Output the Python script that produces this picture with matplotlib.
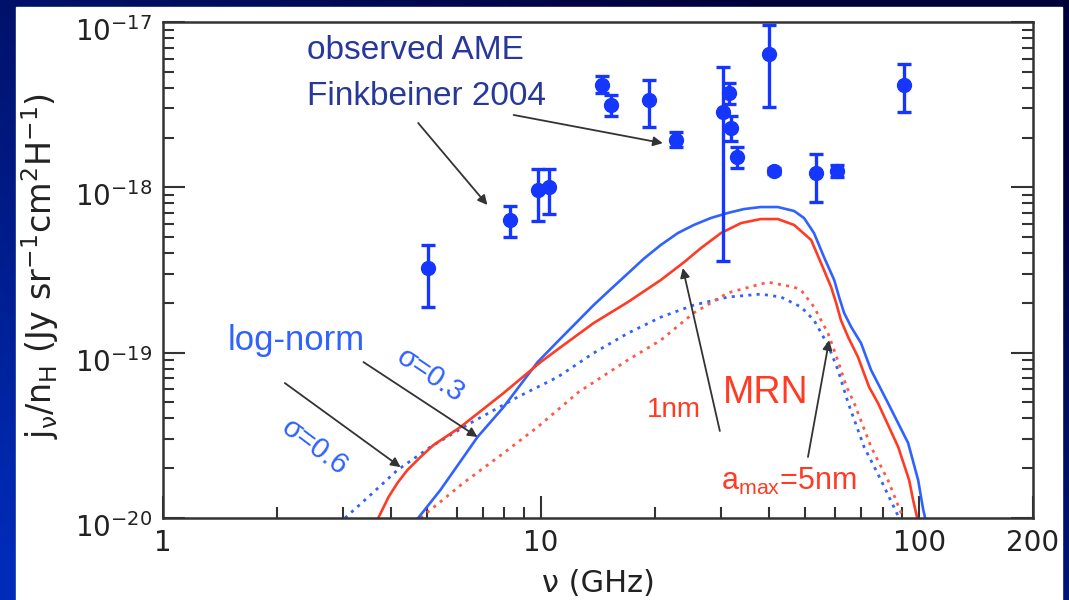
import numpy as np
import matplotlib
matplotlib.use('Agg')
import matplotlib.pyplot as plt
from matplotlib.patches import Rectangle
from matplotlib.ticker import NullFormatter
from matplotlib.transforms import ScaledTranslation

# observed AME (Finkbeiner 2004)
obs_freq = [5.03, 8.26, 9.79, 10.5, 14.5, 15.3, 19.3, 22.7, 30.3, 31.4, 31.8, 33.0, 40.1, 41.3, 53.3, 60.7, 91.2]
obs_val = [3.25e-19, 6.34e-19, 9.7e-19, 1.0e-18, 4.16e-18, 3.15e-18, 3.37e-18, 1.93e-18, 2.86e-18,
           3.72e-18, 2.29e-18, 1.52e-18, 6.4e-18, 1.25e-18, 1.22e-18, 1.25e-18, 4.16e-18]
obs_lo = [1.9e-19, 5.0e-19, 6.3e-19, 6.9e-19, 3.7e-18, 2.7e-18, 2.32e-18, 1.75e-18, 3.6e-19,
          3.2e-18, 1.9e-18, 1.3e-18, 3.06e-18, 1.2e-18, 8.1e-19, 1.15e-18, 2.86e-18]
obs_hi = [4.5e-19, 7.7e-19, 1.29e-18, 1.29e-18, 4.7e-18, 3.6e-18, 4.46e-18, 2.15e-18, 5.34e-18,
          4.3e-18, 2.7e-18, 1.75e-18, 9.6e-18, 1.3e-18, 1.59e-18, 1.36e-18, 5.57e-18]

# MRN, a_min = 1nm (solid red)
mrn1_freq = [3.71, 3.95, 4.17, 4.43, 4.80, 5.19, 6.12, 7.96, 9.97, 11.27, 13.77, 16.95, 20.73, 23.9,
             26.5, 29.9, 33.8, 38.1, 42.3, 46.7, 51.8, 56.0, 58.5, 60.3, 62.1, 64.9, 68.9, 73.7,
             77.8, 88.0, 94.1, 96.4, 98.8]
mrn1_val = [1.0e-20, 1.34e-20, 1.63e-20, 1.95e-20, 2.34e-20, 2.76e-20, 3.55e-20, 5.70e-20, 8.77e-20,
            1.08e-19, 1.51e-19, 2.02e-19, 2.75e-19, 3.53e-19, 4.30e-19, 5.29e-19, 6.08e-19, 6.43e-19,
            6.43e-19, 5.92e-19, 4.80e-19, 3.16e-19, 2.49e-19, 2.00e-19, 1.57e-19, 1.24e-19, 9.40e-20,
            6.20e-20, 4.96e-20, 2.69e-20, 1.69e-20, 1.28e-20, 1.0e-20]

# MRN, a_max = 5nm (dotted red)
mrn5_freq = [4.80, 6.23, 7.96, 9.79, 12.57, 16.95, 20.73, 25.35, 31.2, 39.8, 46.7, 48.7, 52.7,
             57.4, 61.0, 64.1, 67.3, 74.6, 82.7, 90.7]
mrn5_val = [1.0e-20, 1.63e-20, 2.47e-20, 3.55e-20, 5.78e-20, 9.02e-20, 1.19e-19, 1.74e-19, 2.30e-19,
            2.67e-19, 2.49e-19, 2.39e-19, 1.89e-19, 1.31e-19, 8.9e-20, 6.3e-20, 4.96e-20, 2.69e-20,
            1.69e-20, 1.0e-20]

# log-normal, sigma = 0.3 (solid blue)
ln3_freq = [4.73, 5.42, 6.79, 7.96, 9.79, 11.27, 12.50, 13.77, 15.28, 16.95, 18.69, 20.73, 23.0,
            25.35, 28.1, 31.2, 34.4, 38.1, 42.3, 46.7, 49.6, 52.7, 56.0, 59.6, 61.4, 63.3, 66.1,
            70.2, 74.6, 82.7, 93.5, 99.4, 102.5, 103.7]
ln3_val = [1.0e-20, 1.48e-20, 3.09e-20, 4.69e-20, 8.77e-20, 1.22e-19, 1.55e-19, 1.94e-19, 2.42e-19,
           3.01e-19, 3.70e-19, 4.48e-19, 5.29e-19, 5.92e-19, 6.52e-19, 7.00e-19, 7.39e-19, 7.60e-19,
           7.60e-19, 7.19e-19, 6.52e-19, 5.29e-19, 3.79e-19, 2.75e-19, 2.17e-19, 1.74e-19, 1.43e-19,
           1.14e-19, 7.85e-20, 4.96e-20, 2.84e-20, 1.69e-20, 1.12e-20, 1.0e-20]

# log-normal, sigma = 0.6 (dotted blue)
ln6_freq = [3.03, 3.54, 4.17, 5.10, 6.50, 8.67, 11.06, 13.77, 16.95, 20.73, 25.35, 31.2, 38.1, 43.1,
            48.7, 52.7, 57.4, 61.0, 64.9, 71.5, 79.3, 88.5]
ln6_val = [1.0e-20, 1.38e-20, 1.95e-20, 2.69e-20, 3.75e-20, 5.39e-20, 7.12e-20, 9.95e-20, 1.31e-19,
           1.64e-19, 1.94e-19, 2.17e-19, 2.26e-19, 2.17e-19, 1.89e-19, 1.57e-19, 1.11e-19, 7.85e-20,
           4.96e-20, 2.69e-20, 1.69e-20, 1.0e-20]

x_ticks = [1, 10, 100, 200]
x_ticklabels = ['1', '10', '100', '200']
y_ticks = [1e-20, 1e-19, 1e-18, 1e-17]

blue_pt = '#1436ff'
blue_ln = '#2f62ff'
red_ln = '#ff3b24'
red_dot = '#ff5a48'
navy = '#28389a'
arrow_c = '#333333'

W, H = 1069, 600
fig = plt.figure(figsize=(W / 100, H / 100), dpi=100)

# slide background (gradient) + white panel
bg = fig.add_axes([0, 0, 1, 1])
gx, gy = np.meshgrid(np.linspace(0, 1, 200), np.linspace(0, 1, 120))
t = np.clip(0.55 * (1 - gx) + 0.65 * gy - 0.15, 0, 1)[..., None]
dark = np.array([0.0, 0.0, 0.22])
bright = np.array([0.0, 0.17, 0.72])
bg.imshow(dark + t * (bright - dark), extent=[0, W, H, 0], aspect='auto')
bg.add_patch(Rectangle((16, 7), 1046, 600, color='white'))
bg.set_xlim(0, W)
bg.set_ylim(H, 0)
bg.axis('off')

ax = fig.add_axes([163 / W, 1 - 518 / H, (1033 - 163) / W, (518 - 22) / H])
ax.set_facecolor('none')
ax.set_xscale('log')
ax.set_yscale('log')
ax.set_xlim(1, 200)
ax.set_ylim(1e-20, 1e-17)

ax.plot(ln6_freq, ln6_val, color=blue_ln, lw=2.0, linestyle=(0, (1.1, 1.9)))
ax.plot(mrn5_freq, mrn5_val, color=red_dot, lw=2.0, linestyle=(0, (1.1, 1.9)))
ax.plot(ln3_freq, ln3_val, color=blue_ln, lw=1.9)
ax.plot(mrn1_freq, mrn1_val, color=red_ln, lw=1.9)

obs_val_a = np.array(obs_val)
yerr = [obs_val_a - np.array(obs_lo), np.array(obs_hi) - obs_val_a]
ax.errorbar(obs_freq, obs_val, yerr=yerr, fmt='o', color=blue_pt, ms=10,
            elinewidth=2.4, capsize=5, capthick=2.4, zorder=5)

# axes styling
for s in ax.spines.values():
    s.set_color('#333333')
    s.set_linewidth(1.8)
ax.tick_params(which='both', direction='in', top=False, right=True, color='#333333',
               width=1.5, labelsize=20, labelcolor='#222222', pad=8)
ax.tick_params(which='major', length=16)
ax.tick_params(which='minor', length=8)
ax.set_xticks(x_ticks)
ax.set_xticklabels(x_ticklabels)
ax.set_yticks(y_ticks)
ax.xaxis.set_minor_formatter(NullFormatter())
ax.yaxis.set_minor_formatter(NullFormatter())
shift = ScaledTranslation(0, -7 / 100, fig.dpi_scale_trans)
for lab in ax.get_yticklabels():
    lab.set_transform(lab.get_transform() + shift)

fig.text(598 / W, 1 - 583 / H, 'ν (GHz)', fontsize=22, color='#222222', ha='center', va='center')
fig.text(40 / W, 1 - 266 / H, r'j$_\mathregular{ν}$/n$_\mathregular{H}$ (Jy sr$^{-1}$cm$^2$H$^{-1}$)',
         fontsize=24, color='#222222', ha='center', va='center', rotation=90)

# annotations
sans = 'Liberation Sans'
ax.text(2.41, 6.77e-18, 'observed AME', family=sans, fontsize=24, color=navy, va='center')
ax.text(2.41, 3.52e-18, 'Finkbeiner 2004', family=sans, fontsize=24, color=navy, va='center')
ax.text(1.48, 1.19e-19, 'log-norm', family=sans, fontsize=25, color=blue_ln, va='center')
ax.text(5.10, 7.32e-20, 'σ=0.3', family=sans, fontsize=21, color=blue_ln, ha='center', va='center',
        rotation=-34)
ax.text(2.51, 2.69e-20, 'σ=0.6', family=sans, fontsize=21, color=blue_ln, ha='center', va='center',
        rotation=-37)
ax.text(39.3, 5.70e-20, 'MRN', family=sans, fontsize=27, color=red_ln, ha='center', va='center')
ax.text(22.4, 4.50e-20, '1nm', family=sans, fontsize=20, color=red_ln, ha='center', va='center')
ax.text(30.0, 1.48e-20, r'a$_\mathregular{max}$=5nm', family=sans, fontsize=22, color=red_ln,
        va='baseline')

arrows = [
    ((4.73, 2.45e-18), (7.21, 7.82e-19)),
    ((8.46, 2.74e-18), (20.98, 1.85e-18)),
    ((3.39, 8.77e-20), (6.79, 3.09e-20)),
    ((2.10, 6.55e-20), (4.25, 2.03e-20)),
    ((29.7, 3.36e-20), (23.7, 3.25e-19)),
    ((50.8, 2.34e-20), (57.8, 1.19e-19)),
]
for start, end in arrows:
    ax.annotate('', xy=end, xytext=start,
                arrowprops=dict(arrowstyle='-|>', color=arrow_c, lw=1.3,
                                mutation_scale=14, shrinkA=0, shrinkB=0))

fig.savefig('out.png', dpi=100)
